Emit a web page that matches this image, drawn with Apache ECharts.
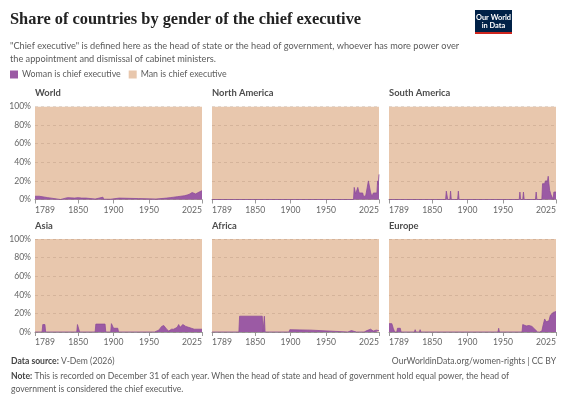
<!DOCTYPE html>
<html lang="en">
<head>
<meta charset="UTF-8">
<title>Share of countries by gender of the chief executive</title>
<script src="https://cdn.jsdelivr.net/npm/echarts@6/dist/echarts.min.js"></script>
<style>
  html, body { margin: 0; padding: 0; background: #fff; }
  #chart { width: 568px; height: 401px; }
</style>
</head>
<body>
<div id="chart"></div>
<script>
// values, % of countries with a woman as chief executive
const xTicks = [1789, 1850, 1900, 1950, 2025];
const panelNames = ['World', 'North America', 'South America', 'Asia', 'Africa', 'Europe'];

const worldYears = [1789, 1795, 1796, 1807, 1808, 1825, 1826, 1835, 1845, 1850, 1855, 1861, 1862, 1874, 1875, 1885, 1886, 1896, 1897, 1908, 1910, 1935, 1937, 1960, 1962, 1975, 1980, 1985, 1990, 1995, 2000, 2005, 2008, 2011, 2013, 2016, 2018, 2021, 2025];
const worldWoman = [3.5, 3.5, 2, 2, 0, 0, 1.5, 2, 1.5, 2, 1.5, 1.5, 0.5, 0.5, 2.5, 2.5, 0.3, 0.3, 2, 1.5, 1, 1, 0.5, 0.5, 1, 1.5, 2, 2.5, 3, 3.5, 4, 5, 6, 7.5, 8, 6, 6.5, 8, 9.5];

const naYears = [1789, 1989, 1990, 1991, 1992, 1994, 1995, 1996, 1997, 2002, 2003, 2006, 2007, 2009, 2010, 2012, 2013, 2014, 2015, 2016, 2017, 2022, 2023, 2024, 2025];
const naWoman = [0, 0, 13, 13, 6, 6, 13, 13, 7, 7, 3.5, 3.5, 7, 7, 20, 20, 8, 8, 3, 3, 7, 7, 20, 16, 27];

const saYears = [1789, 1869, 1870, 1871, 1872, 1875, 1876, 1877, 1886, 1887, 1888, 1973, 1974, 1975, 1978, 1979, 1980, 1996, 1997, 1998, 2005, 2006, 2009, 2010, 2013, 2014, 2015, 2016, 2017, 2018, 2020, 2021, 2022, 2025];
const saWoman = [0, 0, 9, 9, 0, 0, 9, 0, 0, 9, 0, 0, 8, 0, 0, 8, 0, 0, 8, 0, 0, 17, 17, 20, 20, 25, 17, 10, 8, 5, 3, 0, 8, 8];

const asiaYears = [1789, 1799, 1800, 1803, 1804, 1848, 1849, 1851, 1852, 1874, 1875, 1888, 1889, 1896, 1897, 1899, 1900, 1906, 1907, 1958, 1959, 1964, 1966, 1968, 1971, 1973, 1975, 1978, 1980, 1982, 1985, 1987, 1990, 1992, 1994, 1996, 1998, 2000, 2002, 2004, 2006, 2008, 2010, 2012, 2014, 2016, 2018, 2020, 2022, 2025];
const asiaWoman = [0, 0, 8, 8, 0, 0, 8, 8, 0, 0, 8.5, 8.5, 0, 0, 9, 9, 4, 4, 0, 0, 2, 2, 3, 6, 7, 6, 3, 1, 1, 3, 3, 4, 5, 8, 5, 5, 8, 8, 6, 4, 5, 4, 4, 5, 3, 4, 3, 4, 3, 3];

const africaYears = [1789, 1827, 1828, 1860, 1861, 1862, 1863, 1864, 1898, 1899, 1929, 1930, 1981, 1982, 1986, 1987, 1993, 1994, 1995, 1999, 2000, 2001, 2004, 2005, 2008, 2010, 2013, 2015, 2017, 2019, 2021, 2023, 2025];
const africaWoman = [0, 0, 17, 17, 0, 0, 17, 0, 0, 2.5, 2, 0, 0, 1.5, 1.5, 0, 0, 1, 0, 0, 1, 0, 0, 1.5, 1.5, 2.5, 3, 2, 1, 1.5, 2, 1.5, 1.5];

const europeYears = [1789, 1793, 1795, 1797, 1800, 1801, 1805, 1806, 1825, 1826, 1827, 1832, 1833, 1834, 1943, 1944, 1945, 1977, 1978, 1980, 1983, 1985, 1987, 1989, 1991, 1993, 1995, 1997, 1999, 2002, 2003, 2005, 2007, 2009, 2011, 2013, 2015, 2017, 2019, 2021, 2023, 2025];
const europeWoman = [9, 9, 4, 0, 0, 4, 4, 0, 0, 2.5, 0, 0, 2.5, 0, 0, 4, 0, 0, 8, 6.5, 6.5, 6, 7, 6.5, 6, 4, 3, 1, 0, 0, 2, 1, 8, 14, 11, 11, 12, 18, 20, 21, 23, 22];

const manYears = [1789, 2025];
const manShare = [100, 100];

const panelYears = [worldYears, naYears, saYears, asiaYears, africaYears, europeYears];
const panelWoman = [worldWoman, naWoman, saWoman, asiaWoman, africaWoman, europeWoman];

const PURPLE = '#9b5aa4';
const TAN = '#e8c7ad';
const FONT = 'Lato, "Noto Sans", sans-serif';

function pairs(xs, ys) {
  return xs.map((x, i) => [x, ys[i]]);
}

const colLeft = [35, 212, 389];
const rowTop = [106.5, 239];
const plotW = 167;
const plotH = 93;

const grids = [], xAxes = [], yAxes = [], series = [], graphics = [];

panelNames.forEach((name, i) => {
  const col = i % 3, row = Math.floor(i / 3);
  grids.push({left: colLeft[col], top: rowTop[row], width: plotW, height: plotH});
  xAxes.push({
    gridIndex: i, type: 'value', min: 1789, max: 2025,
    axisLine: {lineStyle: {color: '#9a9a9a'}},
    axisTick: {show: true, length: 4, customValues: xTicks, lineStyle: {color: '#9a9a9a'}},
    axisLabel: {customValues: xTicks, formatter: v => String(v), color: '#666', fontSize: 8.6, fontFamily: FONT, margin: 6,
                alignMinLabel: 'left', alignMaxLabel: 'right'},
    splitLine: {show: false}
  });
  yAxes.push({
    gridIndex: i, type: 'value', min: 0, max: 100, interval: 20, z: 10,
    axisLine: {show: false}, axisTick: {show: false},
    axisLabel: {show: col === 0, formatter: '{value}%', color: '#666', fontSize: 8.6, fontFamily: FONT, margin: 4},
    splitLine: {lineStyle: {color: 'rgba(120,90,70,0.18)', type: [3, 3], width: 1}}
  });
  series.push({
    name: 'Man is chief executive', type: 'line', xAxisIndex: i, yAxisIndex: i,
    data: pairs(manYears, manShare), showSymbol: false, silent: true,
    lineStyle: {width: 0}, areaStyle: {color: TAN, opacity: 1}, itemStyle: {color: TAN}
  });
  series.push({
    name: 'Woman is chief executive', type: 'line', xAxisIndex: i, yAxisIndex: i,
    data: pairs(panelYears[i], panelWoman[i]), showSymbol: false, silent: true,
    lineStyle: {width: 0.8, color: '#8e4c99'}, areaStyle: {color: PURPLE, opacity: 1}, itemStyle: {color: PURPLE}
  });
  graphics.push({
    type: 'text', left: colLeft[col], top: rowTop[row] - 18,
    style: {text: name, font: 'bold 9.4px ' + FONT, fill: '#4d4d4d'}
  });
});

graphics.push(
  {type: 'text', left: 10, top: 12,
   style: {text: 'Share of countries by gender of the chief executive', font: 'bold 16.4px "Liberation Serif", serif', fill: '#222'}},
  {type: 'text', left: 10, top: 40,
   style: {text: '"Chief executive" is defined here as the head of state or the head of government, whoever has more power over\nthe appointment and dismissal of cabinet ministers.',
           font: '9.2px ' + FONT, fill: '#5b5b5b', lineHeight: 13}},
  {type: 'group', left: 475, top: 10, children: [
    {type: 'rect', shape: {x: 0, y: 0, width: 37, height: 24}, style: {fill: '#002147'}},
    {type: 'rect', shape: {x: 0, y: 22, width: 37, height: 2}, style: {fill: '#ce261e'}},
    {type: 'text', x: 18.5, y: 3, style: {text: 'Our World\nin Data', font: 'bold 7.4px ' + FONT, fill: '#fff', align: 'center', lineHeight: 8.5}}
  ]},
  {type: 'text', left: 11, top: 357,
   style: {text: '{b|Data source:} V-Dem (2026)', font: '8.6px ' + FONT, fill: '#5b5b5b',
           rich: {b: {fontWeight: 'bold', fontSize: 8.6, fontFamily: FONT, fill: '#444'}}}},
  {type: 'text', right: 12, top: 357,
   style: {text: 'OurWorldinData.org/women-rights | CC BY', font: '8.6px ' + FONT, fill: '#5b5b5b'}},
  {type: 'text', left: 11, top: 370,
   style: {text: '{b|Note:} This is recorded on December 31 of each year. When the head of state and head of government hold equal power, the head of\ngovernment is considered the chief executive.',
           font: '8.6px ' + FONT, fill: '#5b5b5b', lineHeight: 13,
           rich: {b: {fontWeight: 'bold', fontSize: 8.6, fontFamily: FONT, fill: '#444', lineHeight: 13}}}}
);

const chart = echarts.init(document.getElementById('chart'), null, {renderer: 'canvas'});
chart.setOption({
  animation: false,
  textStyle: {fontFamily: FONT},
  legend: {
    left: 10, top: 70, padding: 0, icon: 'rect', itemWidth: 8, itemHeight: 8, itemGap: 8,
    textStyle: {color: '#5b5b5b', fontSize: 8.8, fontFamily: FONT, padding: [0, 0, 0, -1]},
    data: [
      {name: 'Woman is chief executive', itemStyle: {color: PURPLE}},
      {name: 'Man is chief executive', itemStyle: {color: TAN}}
    ],
    selectedMode: false
  },
  grid: grids,
  xAxis: xAxes,
  yAxis: yAxes,
  series: series,
  graphic: graphics
});
</script>
</body>
</html>
